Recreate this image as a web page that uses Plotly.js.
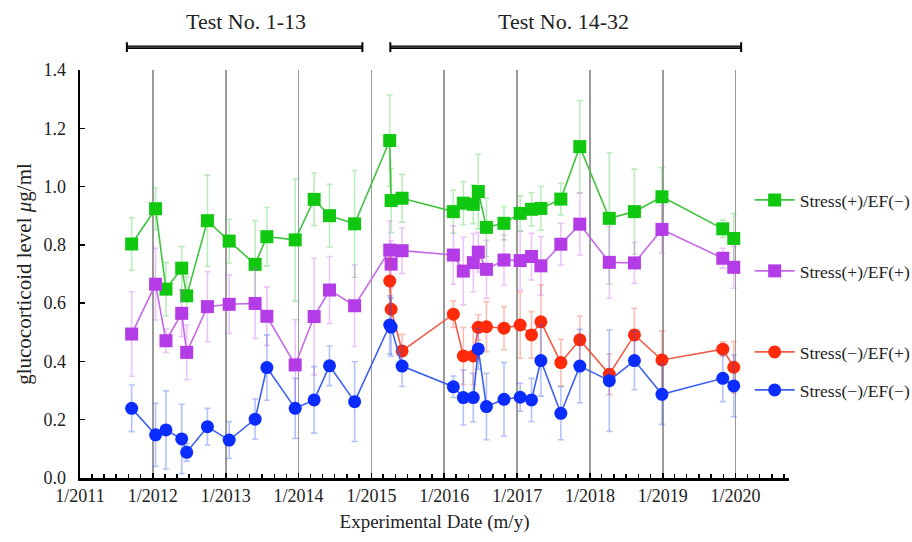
<!DOCTYPE html>
<html>
<head>
<meta charset="utf-8">
<script src="https://cdn.plot.ly/plotly-3.0.1.min.js"></script>
<style>html,body{margin:0;padding:0;background:#fff;}#chart{width:912px;height:542px;}</style>
</head>
<body>
<div id="chart"></div>
<script>
// Test dates (Test No. 1-32)
const testDates = [
  '2011-09-17','2012-01-15','2012-03-07','2012-05-25','2012-06-19','2012-10-01','2013-01-18',
  '2013-05-28','2013-07-26','2013-12-15','2014-03-20','2014-06-05','2014-10-09',
  '2015-04-03','2015-04-10','2015-06-04','2016-02-16','2016-04-06','2016-05-26','2016-06-20',
  '2016-07-31','2016-10-27','2017-01-16','2017-03-14','2017-04-30','2017-08-08','2017-11-11',
  '2018-04-08','2018-08-12','2018-12-28','2019-10-29','2019-12-23'
];

// Stress(+)/EF(−)
const greenVals = [0.803,0.924,0.648,0.720,0.625,0.883,0.813,0.733,0.828,0.817,0.956,0.900,0.872,
  1.158,0.952,0.960,0.914,0.943,0.939,0.983,0.860,0.874,0.908,0.922,0.925,0.957,1.137,0.891,0.914,0.965,0.855,0.822];
const greenErr = [0.09,0.072,0.092,0.074,0.065,0.157,0.075,0.15,0.10,0.21,0.09,0.108,0.183,
  0.156,0.11,0.082,0.074,0.074,0.066,0.128,0.10,0.057,0.06,0.057,0.075,0.054,0.158,0.225,0.146,0.10,0.03,0.086];

// Stress(+)/EF(+)
const purpleVals = [0.494,0.665,0.471,0.565,0.431,0.588,0.596,0.599,0.555,0.388,0.554,0.645,0.591,
  0.782,0.734,0.780,0.765,0.710,0.739,0.775,0.716,0.748,0.746,0.760,0.728,0.802,0.871,0.740,0.738,0.853,0.754,0.723];
const purpleErr = [0.145,0.123,0.04,0.08,0.094,0.12,0.10,0.12,0.10,0.155,0.20,0.115,0.14,
  0.10,0.08,0.078,0.10,0.116,0.10,0.068,0.10,0.086,0.10,0.08,0.10,0.072,0.106,0.123,0.07,0.082,0.034,0.072];

// Stress(−)/EF(+)  (Test No. 14-32)
const redVals = [0.676,0.579,0.436,0.562,0.419,0.419,0.517,0.519,0.514,0.525,0.491,0.536,0.396,0.474,0.356,0.491,0.405,0.442,0.380];
const redErr = [0.08,0.08,0.057,0.045,0.098,0.098,0.043,0.086,0.074,0.114,0.08,0.126,0.08,0.082,0.07,0.091,0.10,0.025,0.088];

// Stress(−)/EF(−)
const blueVals = [0.239,0.148,0.165,0.134,0.088,0.176,0.130,0.202,0.379,0.239,0.268,0.385,0.262,
  0.525,0.518,0.384,0.313,0.276,0.276,0.443,0.245,0.270,0.277,0.268,0.403,0.222,0.384,0.334,0.403,0.287,0.342,0.316];
const blueErr = [0.08,0.108,0.134,0.119,0.03,0.063,0.063,0.069,0.112,0.103,0.114,0.068,0.137,
  0.10,0.10,0.07,0.037,0.094,0.083,0.07,0.114,0.126,0.048,0.074,0.122,0.091,0.126,0.174,0.10,0.103,0.08,0.106];

const seriesNames = ['Stress(+)/EF(\u2212)','Stress(+)/EF(+)','Stress(\u2212)/EF(+)','Stress(\u2212)/EF(\u2212)'];
const xTickFormat = '%-m/%Y';

const FONT = 'Liberation Serif, Times New Roman, serif';

function mk(x, y, err, name, markerColor, lineColor, errColor, symbol, legendId) {
  return {
    type: 'scatter', mode: 'lines+markers', x: x, y: y, name: name,
    legend: legendId,
    line: {color: lineColor, width: 1.6},
    marker: {color: markerColor, size: 13, symbol: symbol},
    error_y: {type: 'data', array: err, visible: true, color: errColor, thickness: 1.6, width: 3}
  };
}

const traces = [
  mk(testDates, greenVals, greenErr, seriesNames[0], '#10c810', '#40c440', 'rgba(60,200,60,0.35)', 'square', 'legend'),
  mk(testDates, purpleVals, purpleErr, seriesNames[1], '#b43ce6', '#c469e8', 'rgba(200,90,235,0.35)', 'square', 'legend2'),
  mk(testDates.slice(13), redVals, redErr, seriesNames[2], '#ff2a0a', '#f25a45', 'rgba(240,70,50,0.35)', 'circle', 'legend3'),
  mk(testDates, blueVals, blueErr, seriesNames[3], '#0a2cff', '#3d5ff0', 'rgba(40,80,240,0.35)', 'circle', 'legend4')
];

function leg(yPix) {
  return {x: 0.822, y: 1 - yPix / 542, xref: 'container', yref: 'container',
    xanchor: 'left', yanchor: 'middle', bgcolor: 'rgba(0,0,0,0)',
    font: {family: FONT, size: 17.5, color: '#222'}, itemwidth: 40};
}

const bracketY = 1.056;
function bracket(x0, x1) {
  return [
    {type: 'line', xref: 'x', yref: 'paper', x0: x0, x1: x1, y0: bracketY, y1: bracketY, line: {color: '#000', width: 3.5}},
    {type: 'line', xref: 'x', yref: 'paper', x0: x0, x1: x1, y0: bracketY, y1: bracketY, line: {color: '#777', width: 0.8}},
    {type: 'line', xref: 'x', yref: 'paper', x0: x0, x1: x0, y0: bracketY - 0.012, y1: bracketY + 0.012, line: {color: '#000', width: 2}},
    {type: 'line', xref: 'x', yref: 'paper', x0: x1, x1: x1, y0: bracketY - 0.012, y1: bracketY + 0.012, line: {color: '#000', width: 2}}
  ];
}

const layout = {
  width: 912, height: 542,
  margin: {l: 80, r: 123, t: 70, b: 64, autoexpand: false},
  paper_bgcolor: '#fff', plot_bgcolor: '#fff',
  font: {family: FONT, color: '#222'},
  showlegend: true,
  legend: leg(200), legend2: leg(271), legend3: leg(352), legend4: leg(390),
  xaxis: {
    type: 'date', range: ['2011-01-01', '2020-09-25'],
    tickformat: xTickFormat, dtick: 'M12', tick0: '2011-01-01',
    ticks: 'inside', ticklen: 5, tickwidth: 1.5, tickcolor: '#000',
    showline: true, linecolor: '#000', linewidth: 2.5,
    showgrid: true, gridcolor: '#9a9a9a', gridwidth: 1.5,
    zeroline: false,
    minor: {dtick: 'M2', ticks: 'inside', ticklen: 4, tickwidth: 1.5, tickcolor: '#000', showgrid: false},
    tickfont: {family: FONT, size: 18, color: '#222'},
    title: {text: 'Experimental Date (m/y)', font: {family: FONT, size: 19, color: '#222'}, standoff: 10}
  },
  yaxis: {
    range: [0, 1.4], dtick: 0.2, tickformat: '.1f',
    ticks: 'inside', ticklen: 5, tickwidth: 1.5, tickcolor: '#000',
    showline: true, linecolor: '#000', linewidth: 2.5,
    showgrid: false, zeroline: false,
    ticklabelstandoff: 8,
    tickfont: {family: FONT, size: 18, color: '#222'},
    title: {text: 'glucocorticoid level <i>\u03bc</i>g/ml', font: {family: FONT, size: 21, color: '#222'}, standoff: 6}
  },
  shapes: [].concat(bracket('2011-08-24', '2014-11-17'), bracket('2015-04-06', '2020-01-29')),
  annotations: [
    {text: 'Test No. 1-13', xref: 'x', yref: 'paper', x: '2013-04-10', y: 1.118, yanchor: 'middle', showarrow: false,
      font: {family: FONT, size: 22, color: '#222'}},
    {text: 'Test No. 14-32', xref: 'x', yref: 'paper', x: '2017-08-20', y: 1.118, yanchor: 'middle', showarrow: false,
      font: {family: FONT, size: 22, color: '#222'}}
  ]
};

Plotly.newPlot('chart', traces, layout, {displayModeBar: false, staticPlot: true});
</script>
</body>
</html>
